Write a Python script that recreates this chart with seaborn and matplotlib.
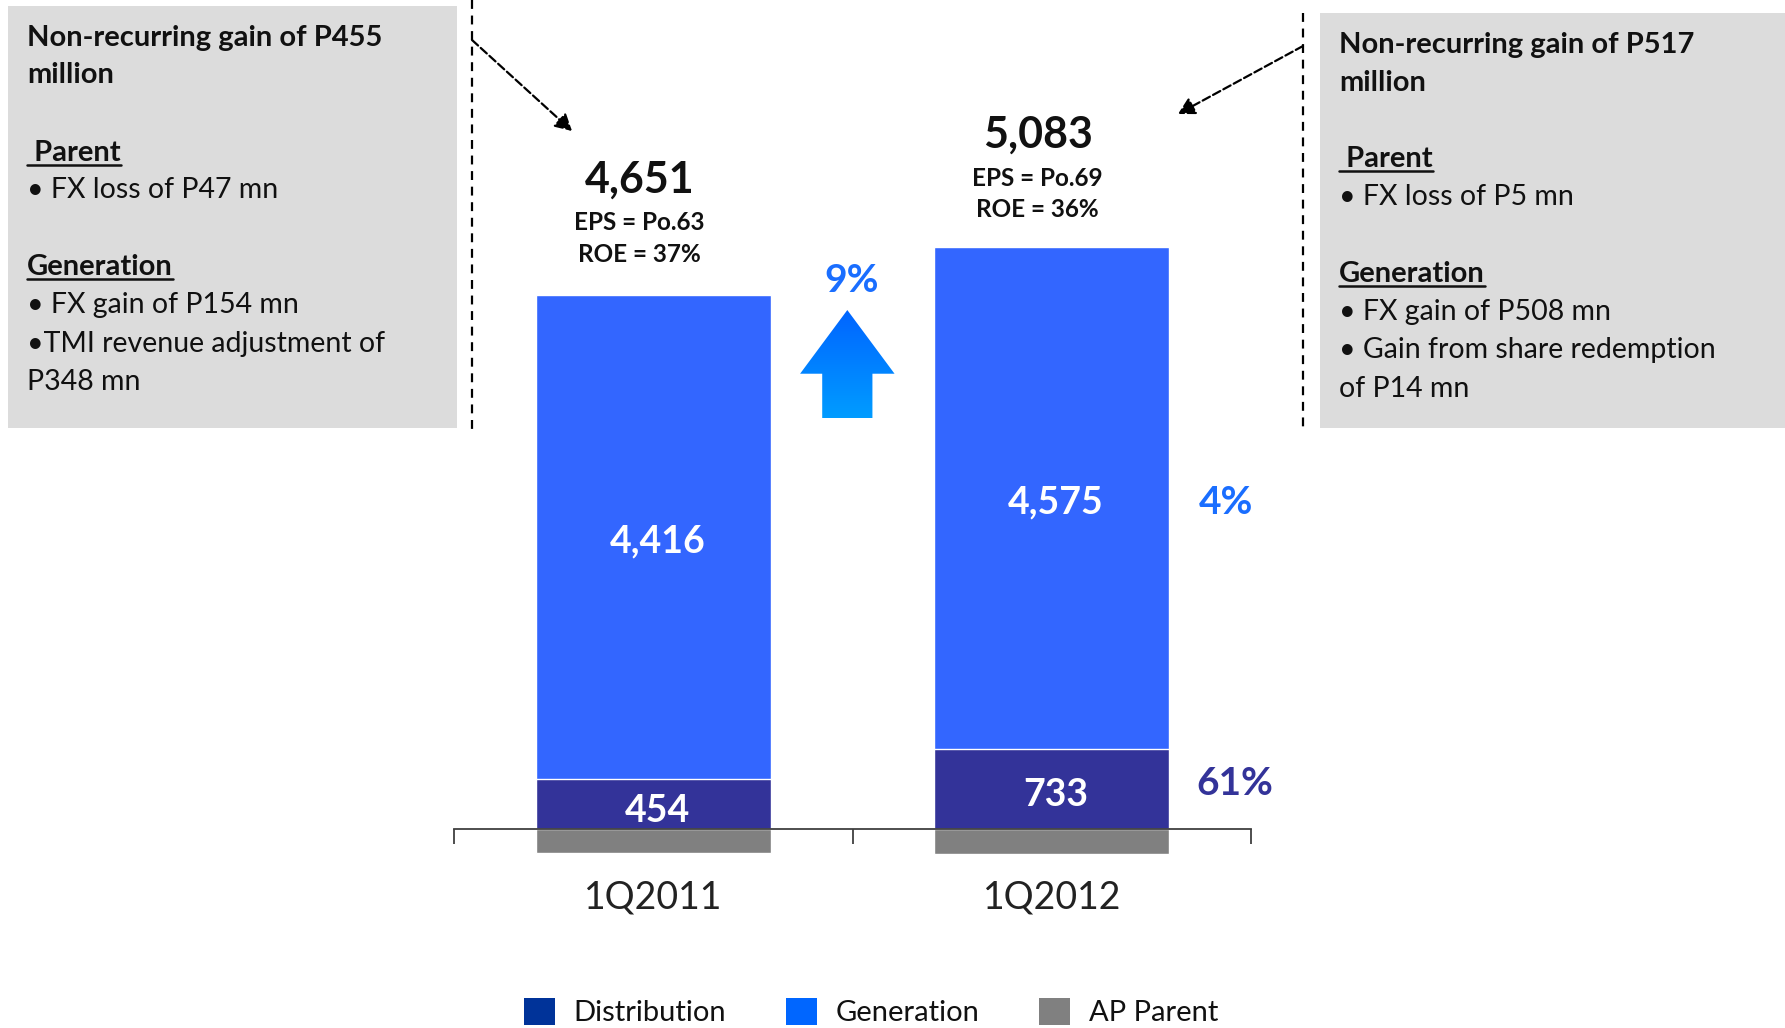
import matplotlib
matplotlib.use("Agg")
import matplotlib.pyplot as plt
from matplotlib.patches import Patch, Polygon, Rectangle, FancyArrowPatch
from matplotlib.colors import LinearSegmentedColormap
from matplotlib.lines import Line2D
import seaborn as sns
import numpy as np

# data
quarters = ["1Q2011", "1Q2012"]
distribution = [454, 733]
generation = [4416, 4575]
ap_parent = [-219, -225]
totals = ["4,651", "5,083"]
eps = ["EPS = Po.63", "EPS = Po.69"]
roe = ["ROE = 37%", "ROE = 36%"]
growth_total = "9%"
growth_generation = "4%"
growth_distribution = "61%"
legend_labels = ["Distribution", "Generation", "AP Parent"]

left_notes = [
    ("Non-recurring gain of P455", "title"),
    ("million", "title"),
    (" Parent", "head"),
    ("• FX loss of P47 mn", "body"),
    ("Generation", "head"),
    ("• FX gain of P154 mn", "body"),
    ("•TMI revenue adjustment of", "body"),
    ("P348 mn", "body"),
]
right_notes = [
    ("Non-recurring gain of P517", "title"),
    ("million", "title"),
    (" Parent", "head"),
    ("• FX loss of P5 mn", "body"),
    ("Generation", "head"),
    ("• FX gain of P508 mn", "body"),
    ("• Gain from share redemption", "body"),
    ("of P14 mn", "body"),
]

sns.set_style("white")
plt.rcParams["font.family"] = ["Lato", "DejaVu Sans"]

GEN = "#3366FF"
DIST = "#333399"
GREY = "#808080"
TXT = "#111111"

W, H = 1785, 1028
fig = plt.figure(figsize=(W / 100, H / 100), dpi=100)

# axes placed so that y=0 sits at the axis line of the reference
y_lo, y_hi = -1500, 6500
ppu = 0.1096
bot_px = 829 + (-y_lo) * ppu
top_px = 829 - y_hi * ppu
ax = fig.add_axes([454 / W, 1 - bot_px / H, (1251 - 454) / W, (bot_px - top_px) / H])
ax.patch.set_visible(False)

stack_top = np.add(distribution, generation)
sns.barplot(x=quarters, y=stack_top, color=GEN, saturation=1, width=0.59,
            errorbar=None, ax=ax)
sns.barplot(x=quarters, y=distribution, color=DIST, saturation=1, width=0.59,
            errorbar=None, ax=ax)
sns.barplot(x=quarters, y=ap_parent, color=GREY, saturation=1, width=0.59,
            errorbar=None, ax=ax)

# segment labels
for i in range(len(quarters)):
    ax.text(i + 0.01, distribution[i] + generation[i] / 2 - 40, f"{generation[i]:,}",
            ha="center", va="center", color="white", fontsize=27, fontweight="bold")
    ax.text(i + 0.01, distribution[i] / 2 - 60, f"{distribution[i]:,}",
            ha="center", va="center", color="white", fontsize=27, fontweight="bold")

# totals above bars
tot_y = [5929, 6334]
for i in range(len(quarters)):
    ax.text(i - 0.035, tot_y[i], totals[i], ha="center", va="center",
            fontsize=31, fontweight="bold", color=TXT)
    ax.text(i - 0.035, tot_y[i] - 395, eps[i], ha="center", va="center",
            fontsize=17.5, fontweight="bold", color=TXT)
    ax.text(i - 0.035, tot_y[i] - 685, roe[i], ha="center", va="center",
            fontsize=17.5, fontweight="bold", color=TXT)

# growth labels
ax.text(0.497, 5000, growth_total, ha="center", va="center", fontsize=28,
        fontweight="bold", color="#1A6EFF")
ax.text(1.437, 2980, growth_generation, ha="center", va="center", fontsize=28,
        fontweight="bold", color="#1A6EFF")
ax.text(1.46, 415, growth_distribution, ha="center", va="center", fontsize=28,
        fontweight="bold", color=DIST)

# gradient up arrow between bars
cx, hw, sw = 0.487, 0.1185, 0.063
y_tip, y_base, y_bot = 4735, 4154, 3749
arrow_poly = Polygon([(cx, y_tip), (cx + hw, y_base), (cx + sw, y_base), (cx + sw, y_bot),
                      (cx - sw, y_bot), (cx - sw, y_base), (cx - hw, y_base)],
                     closed=True, facecolor="none", edgecolor="none", transform=ax.transData)
ax.add_patch(arrow_poly)
cmap = LinearSegmentedColormap.from_list("arr", ["#009CFF", "#0064FF"])
im = ax.imshow(np.linspace(0, 1, 256).reshape(-1, 1), cmap=cmap, origin="lower",
               extent=[cx - hw, cx + hw, y_bot, y_tip], aspect="auto", zorder=3)
im.set_clip_path(arrow_poly)

ax.set_xlim(-0.5, 1.5)
ax.set_ylim(y_lo, y_hi)
ax.set_xlabel("")
ax.set_ylabel("")
ax.set_yticks([])
for s in ["left", "right", "top"]:
    ax.spines[s].set_visible(False)
ax.spines["bottom"].set_position(("data", 0))
ax.spines["bottom"].set_color("#404040")
ax.spines["bottom"].set_linewidth(1.3)
ax.set_xticks([0, 1])
ax.set_xticklabels(quarters, fontsize=27, color="#222222")
ax.set_xticks([-0.5, 0.5, 1.5], minor=True)
ax.tick_params(axis="x", which="major", bottom=False, length=0, pad=36)
ax.tick_params(axis="x", which="minor", bottom=True, length=11, width=1.3,
               color="#404040", direction="out")

# note boxes
fig.add_artist(Rectangle((8 / W, 1 - 428 / H), (457 - 8) / W, (428 - 6) / H,
                         transform=fig.transFigure, facecolor="#DCDCDC",
                         edgecolor="none", zorder=0))
fig.add_artist(Rectangle((1320 / W, 1 - 428 / H), (W - 1320) / W, (428 - 13) / H,
                         transform=fig.transFigure, facecolor="#DCDCDC",
                         edgecolor="none", zorder=0))

underlined = []


def write_notes(notes, x_px, baselines):
    for (txt, kind), yb in zip(notes, baselines):
        weight = "normal" if kind == "body" else "bold"
        size = 20.5 if kind == "body" else 21
        t = fig.text(x_px / W, 1 - yb / H, txt, ha="left", va="baseline",
                     fontsize=size, fontweight=weight, color=TXT)
        if kind == "head":
            underlined.append((t, yb))


write_notes(left_notes, 27, [46, 83, 161, 198, 275, 313, 352, 390])
write_notes(right_notes, 1339, [53, 91, 167, 205, 282, 320, 358, 397])

# dashed separators and arrows
dash = (0, (4, 3))
fig.add_artist(Line2D([472 / W, 472 / W], [1, 1 - 429 / H], transform=fig.transFigure,
                      ls=dash, lw=1.6, color="black"))
fig.add_artist(Line2D([1303 / W, 1303 / W], [1 - 13 / H, 1 - 429 / H],
                      transform=fig.transFigure, ls=dash, lw=1.6, color="black"))
for (xa, ya), (xb, yb) in [((472, 40), (572, 131)), ((1303, 46), (1178, 114))]:
    fig.add_artist(FancyArrowPatch((xa / W, 1 - ya / H), (xb / W, 1 - yb / H),
                                   transform=fig.transFigure,
                                   arrowstyle="-|>,head_length=10,head_width=5.5",
                                   ls="--", lw=1.6, color="black",
                                   shrinkA=0, shrinkB=0))

# legend
legend_colors = ["#003399", "#0066FF", GREY]
handles = [Patch(facecolor=c, edgecolor="none", label=l)
           for c, l in zip(legend_colors, legend_labels)]
fig.legend(handles=handles, loc="center", bbox_to_anchor=(0.488, 1 - 1012 / H),
           ncol=3, frameon=False, fontsize=21, handlelength=1.05, handleheight=1.05,
           handletextpad=0.65, columnspacing=2.05, labelcolor="#111111")

# underline the section headings
fig.canvas.draw()
renderer = fig.canvas.get_renderer()
for t, yb in underlined:
    bb = t.get_window_extent(renderer)
    yl = 1 - (yb + 4) / H
    fig.add_artist(Line2D([bb.x0 / W, bb.x1 / W], [yl, yl], transform=fig.transFigure,
                          lw=1.8, color=TXT))

fig.savefig("out.png", dpi=100)
